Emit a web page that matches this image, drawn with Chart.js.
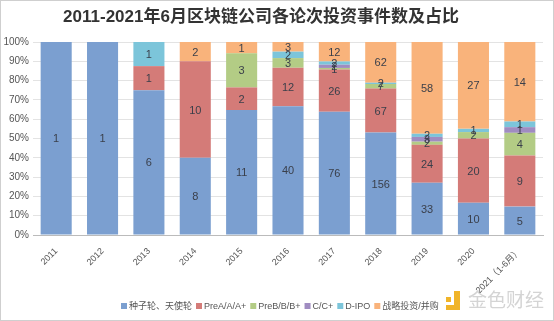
<!DOCTYPE html>
<html><head><meta charset="utf-8">
<script src="https://cdn.jsdelivr.net/npm/chart.js@4/dist/chart.umd.min.js"></script>
<style>html,body{margin:0;padding:0;background:#fff}#wrap{width:554px;height:321px;position:relative}</style>
</head><body><div id="wrap"><canvas id="c" width="554" height="321"></canvas></div>
<script>
const categories = ['2011','2012','2013','2014','2015','2016','2017','2018','2019','2020','2021（1-6月）'];
const seriesNames = ['种子轮、天使轮','PreA/A/A+','PreB/B/B+','C/C+','D-IPO','战略投资/并购'];
const seed      = [1, 1, 6, 8, 11, 40, 76, 156, 33, 10, 5];
const roundA    = [0, 0, 1, 10, 2, 12, 26, 67, 24, 20, 9];
const roundB    = [0, 0, 0, 0, 3, 3, 1, 7, 2, 2, 4];
const roundC    = [0, 0, 0, 0, 0, 0, 2, 0, 3, 0, 1];
const roundD    = [0, 0, 1, 0, 0, 2, 2, 2, 2, 1, 1];
const strategic = [0, 0, 0, 2, 1, 3, 12, 62, 58, 27, 14];
const yTicks = ['0%','10%','20%','30%','40%','50%','60%','70%','80%','90%','100%'];
const colors = ['#7b9fd0','#d47b78','#b3cc85','#a08cc1','#7cc5da','#f9b37b'];
const titleText = '2011-2021年6月区块链公司各论次投资事件数及占比';

const counts = [seed, roundA, roundB, roundC, roundD, strategic];
const totals = categories.map((_, i) => counts.reduce((s, a) => s + a[i], 0));
const datasets = counts.map((arr, k) => ({
  label: seriesNames[k],
  data: arr.map((v, i) => v / totals[i] * 100),
  raw: arr,
  backgroundColor: colors[k],
  borderWidth: 0,
  categoryPercentage: 1,
  barPercentage: 0.67
}));

const FONT = "'Liberation Sans','Noto Sans CJK SC',sans-serif";

const extras = {
  id: 'extras',
  beforeDraw(chart) {
    const ctx = chart.ctx;
    ctx.save();
    ctx.fillStyle = '#fff';
    ctx.fillRect(0, 0, chart.width, chart.height);
    ctx.restore();
  },
  afterDatasetsDraw(chart) {
    const ctx = chart.ctx;
    ctx.save();
    ctx.font = '11px ' + FONT;
    ctx.fillStyle = '#3a3f4a';
    ctx.textAlign = 'center';
    ctx.textBaseline = 'middle';
    chart.data.datasets.forEach((ds, k) => {
      const meta = chart.getDatasetMeta(k);
      meta.data.forEach((bar, i) => {
        const v = ds.raw[i];
        if (!v) return;
        const y = (bar.y + bar.base) / 2;
        ctx.fillText(String(v), bar.x, y + 1);
      });
    });
    ctx.restore();
  },
  afterDraw(chart) {
    const ctx = chart.ctx;
    ctx.save();
    // border
    ctx.strokeStyle = '#cfcfcf';
    ctx.lineWidth = 1;
    ctx.strokeRect(0.5, 0.5, chart.width - 1, chart.height - 1);
    // title
    ctx.font = 'bold 17px ' + FONT;
    ctx.fillStyle = '#333';
    ctx.textAlign = 'center';
    ctx.textBaseline = 'middle';
    ctx.fillText(titleText, 261, 17);
    // legend
    ctx.font = '9px ' + FONT;
    ctx.textBaseline = 'middle';
    let x = 121;
    const y = 306;
    seriesNames.forEach((n, k) => {
      ctx.fillStyle = colors[k];
      ctx.fillRect(x, y - 3, 6, 6);
      x += 8;
      ctx.fillStyle = '#555';
      ctx.textAlign = 'left';
      ctx.fillText(n, x, y + 0.5);
      x += ctx.measureText(n).width + 4;
    });
    // watermark
    ctx.fillStyle = '#f0b429';
    ctx.fillRect(446, 297, 5, 5);
    ctx.fillRect(446, 305, 14, 5);
    ctx.fillRect(454, 291, 6, 19);
    ctx.font = '19px ' + FONT;
    ctx.fillStyle = '#d4d4d4';
    ctx.textAlign = 'left';
    ctx.fillText('金色财经', 468, 302);
    ctx.restore();
  }
};

new Chart(document.getElementById('c'), {
  type: 'bar',
  data: { labels: categories, datasets },
  plugins: [extras],
  options: {
    responsive: false,
    animation: false,
    layout: { padding: { left: 0, right: 11, top: 42, bottom: 0 } },
    plugins: {
      legend: { display: false },
      tooltip: { enabled: false },
      title: { display: false }
    },
    scales: {
      x: {
        stacked: true,
        grid: { display: false },
        border: { color: '#bbb' },
        ticks: {
          font: { family: FONT, size: 9 },
          color: '#555',
          maxRotation: 45,
          minRotation: 45,
          autoSkip: false,
          padding: 3
        },
        afterFit(s) { s.height = 86; }
      },
      y: {
        stacked: true,
        min: 0,
        max: 100,
        grid: { color: '#e3e3e3', drawTicks: false },
        border: { display: false },
        ticks: {
          stepSize: 10,
          font: { family: FONT, size: 10 },
          color: '#555',
          padding: 4,
          callback: (v) => yTicks[Math.round(v / 10)]
        },
        afterFit(s) { s.width = 33; }
      }
    }
  }
});
</script></body></html>
